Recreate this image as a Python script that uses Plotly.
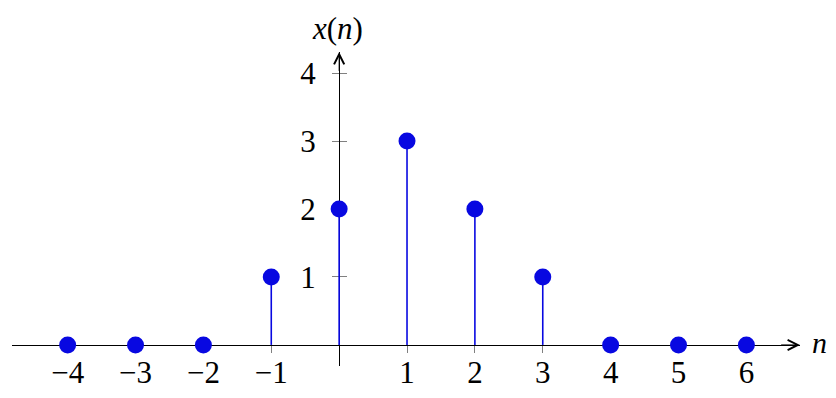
import plotly.graph_objects as go

# data
n_vals = [-4, -3, -2, -1, 0, 1, 2, 3, 4, 5, 6]
x_vals = [0, 0, 0, 1, 2, 3, 2, 1, 0, 0, 0]
x_ticks = [-4, -3, -2, -1, 1, 2, 3, 4, 5, 6]
x_tick_text = ["\u2212" + str(-t) if t < 0 else str(t) for t in x_ticks]
y_ticks = [1, 2, 3, 4]
y_tick_text = [str(t) for t in y_ticks]

BLUE = "rgb(8,8,225)"
FONT = "Liberation Serif"

xr = [-4.82, 6.79]
yr = [-0.31, 4.31]
ypos = (0 - xr[0]) / (xr[1] - xr[0])   # y axis at x=0
xpos = (0 - yr[0]) / (yr[1] - yr[0])   # x axis at y=0

# stems
sx, sy = [], []
for n, v in zip(n_vals, x_vals):
    if v != 0:
        sx += [n, n, None]
        sy += [0, v, None]

fig = go.Figure()
fig.add_trace(go.Scatter(x=sx, y=sy, mode="lines",
                         line=dict(color=BLUE, width=1.6),
                         hoverinfo="skip", showlegend=False))
fig.add_trace(go.Scatter(x=n_vals, y=x_vals, mode="markers",
                         marker=dict(color=BLUE, size=17),
                         showlegend=False, cliponaxis=False))
fig.add_trace(go.Scatter(x=[None], y=[None], yaxis="y2", showlegend=False))

fig.update_layout(
    width=836, height=398,
    margin=dict(l=12, r=36, t=52, b=32, autoexpand=False),
    paper_bgcolor="white", plot_bgcolor="white",
    font=dict(family=FONT, color="black", size=32),
    xaxis=dict(range=xr, anchor="free", position=xpos, automargin=False,
               showline=True, linecolor="black", linewidth=1.2,
               showgrid=False, zeroline=False,
               tickvals=x_ticks, ticktext=x_tick_text,
               ticks="outside", ticklen=7, tickcolor="gray", tickwidth=1,
               ticklabelstandoff=-7,
               tickfont=dict(family=FONT, size=31, color="black"),
               layer="below traces", fixedrange=True),
    yaxis=dict(range=yr, anchor="free", position=ypos, automargin=False,
               showline=True, linecolor="black", linewidth=1.2,
               showgrid=False, zeroline=False,
               tickvals=y_ticks, ticktext=y_tick_text,
               ticks="outside", ticklen=7, tickcolor="gray", tickwidth=1,
               ticklabelstandoff=10,
               tickfont=dict(family=FONT, size=31, color="black"),
               layer="below traces", fixedrange=True),
    yaxis2=dict(range=yr, anchor="free", position=ypos, overlaying="y",
                automargin=False,
                showline=False, showgrid=False, zeroline=False,
                tickvals=y_ticks, showticklabels=False,
                ticks="inside", ticklen=7, tickcolor="gray", tickwidth=1,
                layer="below traces", fixedrange=True),
)

# axis arrowheads
fig.add_annotation(x=xr[1], y=0, ax=xr[1] - 0.3, ay=0, xref="x", yref="y",
                   axref="x", ayref="y", text="", showarrow=True,
                   arrowhead=5, arrowsize=2, arrowwidth=1, arrowcolor="black")
fig.add_annotation(x=0, y=yr[1], ax=0, ay=yr[1] - 0.3, xref="x", yref="y",
                   axref="x", ayref="y", text="", showarrow=True,
                   arrowhead=5, arrowsize=2, arrowwidth=1, arrowcolor="black")

# axis labels (paper coordinates)
fig.add_annotation(x=(337 - 12) / 788, y=(366 - 28) / 314, xref="paper", yref="paper",
                   xanchor="center", yanchor="middle",
                   text="<i>x</i>(<i>n</i>)", showarrow=False,
                   font=dict(family=FONT, size=31, color="black"))
fig.add_annotation(x=(819 - 12) / 788, y=(366 - 342) / 314, xref="paper", yref="paper",
                   xanchor="center", yanchor="middle",
                   text="<i>n</i>", showarrow=False,
                   font=dict(family=FONT, size=30, color="black"))

fig.write_html("out.html")
